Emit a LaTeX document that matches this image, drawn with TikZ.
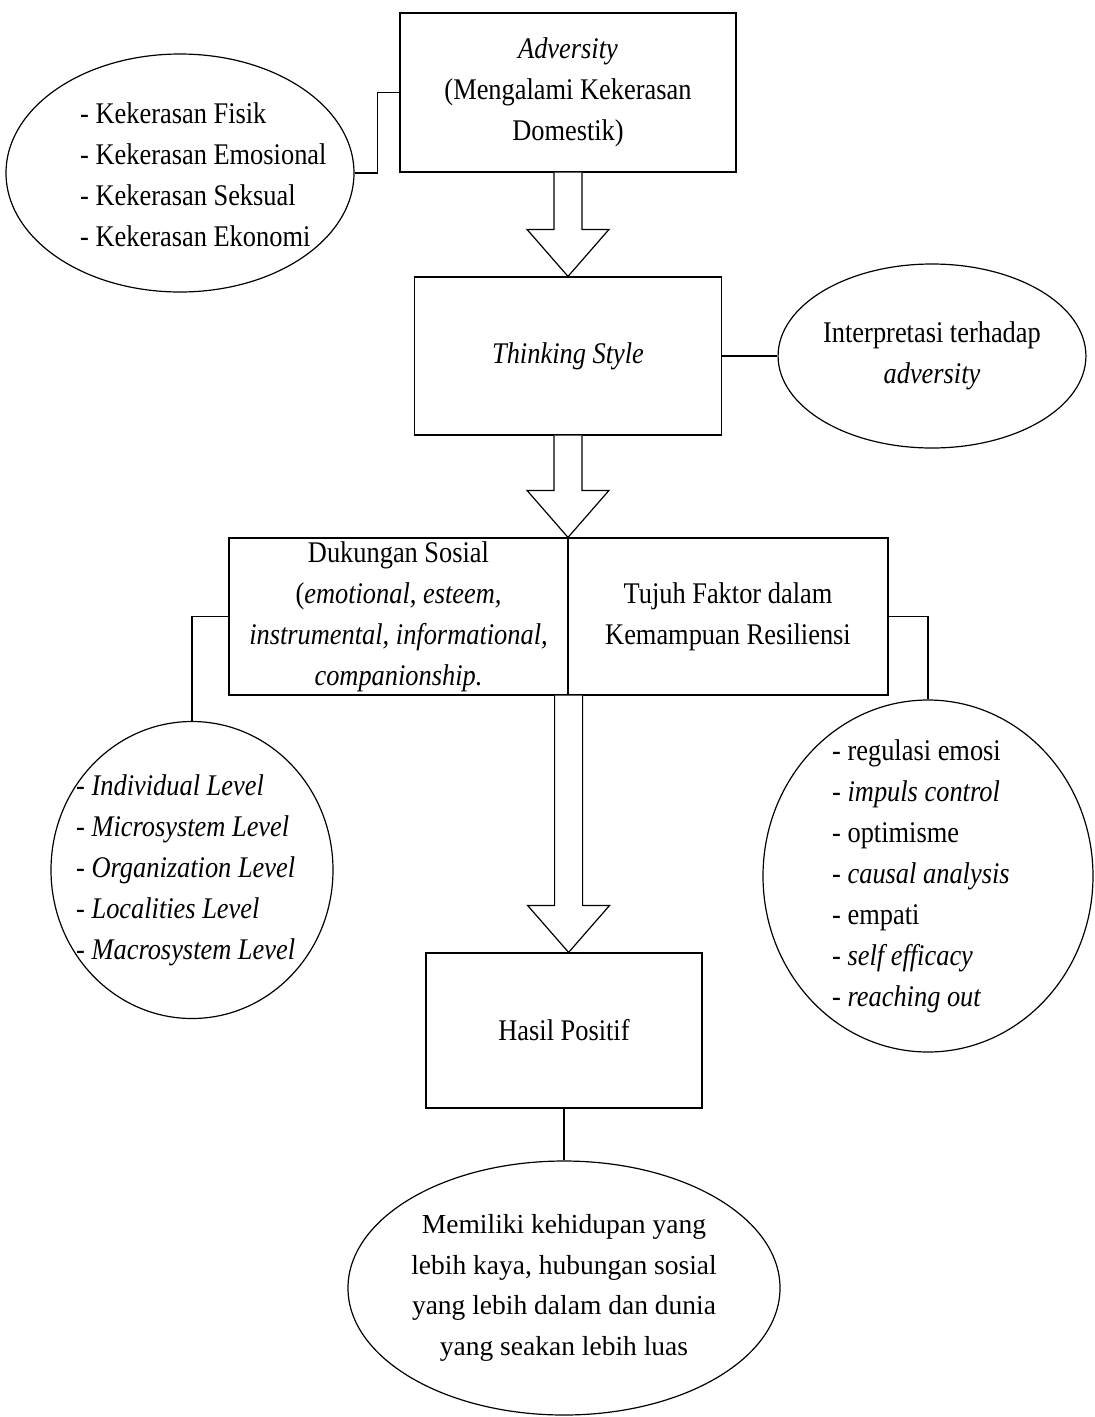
\documentclass[tikz,border=0pt]{standalone}
\usepackage{fontspec}
\setmainfont{Liberation Serif}
\newfontfamily\condfam[FakeStretch=0.88]{Liberation Serif}
\newcommand{\cond}{\condfam\fontsize{30}{41}\selectfont}
\newcommand{\plainbig}{\rmfamily\fontsize{27.5}{40.7}\selectfont}
\usetikzlibrary{shapes.geometric,calc}
\tikzset{
  box/.style={draw, line width=1.2pt, rectangle, inner sep=0pt, align=center, font=\cond},
  oval/.style={draw, line width=1.2pt, ellipse, inner sep=0pt},
  link/.style={draw, line width=1.2pt},
  blk/.style={draw, line width=1.2pt, fill=white, line join=miter},
  items/.style={inner sep=0pt, align=left, anchor=west, font=\cond},
}
\newcommand{\blockarr}[2]{%
  \draw[blk] ($(#1)+(-14,0)$) -- ($(#2)+(-14,-47)$) -- ($(#2)+(-41,-47)$) -- (#2)
    -- ($(#2)+(41,-47)$) -- ($(#2)+(14,-47)$) -- ($(#1)+(14,0)$);}
\begin{document}
\begin{tikzpicture}[x=1pt,y=-1pt]
\useasboundingbox (0,0) rectangle (1095,1417);
\fill[white] (0,0) rectangle (1095,1417);

% boxes
\node[box, minimum width=336, minimum height=159] (adv) at (568,92.5)
  {\textit{Adversity}\\(Mengalami Kekerasan\\Domestik)};
\node[box, minimum width=307, minimum height=158] (think) at (568,356)
  {\textit{Thinking Style}};
\node[box, minimum width=339, minimum height=157] (dl) at (398.5,616.5)
  {Dukungan Sosial\\(\textit{emotional, esteem,}\\\textit{instrumental, informational,}\\\textit{companionship.}};
\node[box, minimum width=320, minimum height=157] (dr) at (728,616.5)
  {Tujuh Faktor dalam\\Kemampuan Resiliensi};
\node[box, minimum width=276, minimum height=155] (hasil) at (564,1030.5)
  {Hasil Positif};

% ellipses
\node[oval, minimum width=348, minimum height=238] (e1) at (180,173) {};
\node[oval, minimum width=296, minimum height=184, align=center, font=\cond] (e2) at (932,356)
  {Interpretasi terhadap\\\textit{adversity}};
\node[oval, minimum width=282, minimum height=297] (e3) at (192,870) {};
\node[oval, minimum width=330, minimum height=352] (e4) at (928,876) {};
\node[oval, minimum width=412, minimum height=254, align=center, font=\plainbig] (e5) at (564,1288)
  {Memiliki kehidupan yang\\lebih kaya, hubungan sosial\\yang lebih dalam dan dunia\\yang seakan lebih luas};

% ellipse item lists
\node[items] (t1) at (80,174.5)
  {- Kekerasan Fisik\\- Kekerasan Emosional\\- Kekerasan Seksual\\- Kekerasan Ekonomi};
\node[items] (t3) at (76,870.5)
  {- \textit{Individual Level}\\- \textit{Microsystem Level}\\- \textit{Organization Level}\\- \textit{Localities Level}\\- \textit{Macrosystem Level}};
\node[items] (t4) at (832,876)
  {- regulasi emosi\\- \textit{impuls control}\\- optimisme\\- \textit{causal analysis}\\- empati\\- \textit{self efficacy}\\- \textit{reaching out}};

% connectors
\draw[link] (e1.east) -- ++(23,0) |- (adv.west);
\draw[link] (think.east) -- (e2.west);
\draw[link] (dl.west) -| (e3.north);
\draw[link] (dr.east) -| (e4.north);
\draw[link] (hasil.south) -- (e5.north);

% block arrows
\blockarr{adv.south}{adv.south |- think.north}
\blockarr{think.south}{think.south |- dl.north east}
\blockarr{dl.south east}{dl.south east |- hasil.north}
\end{tikzpicture}
\end{document}
